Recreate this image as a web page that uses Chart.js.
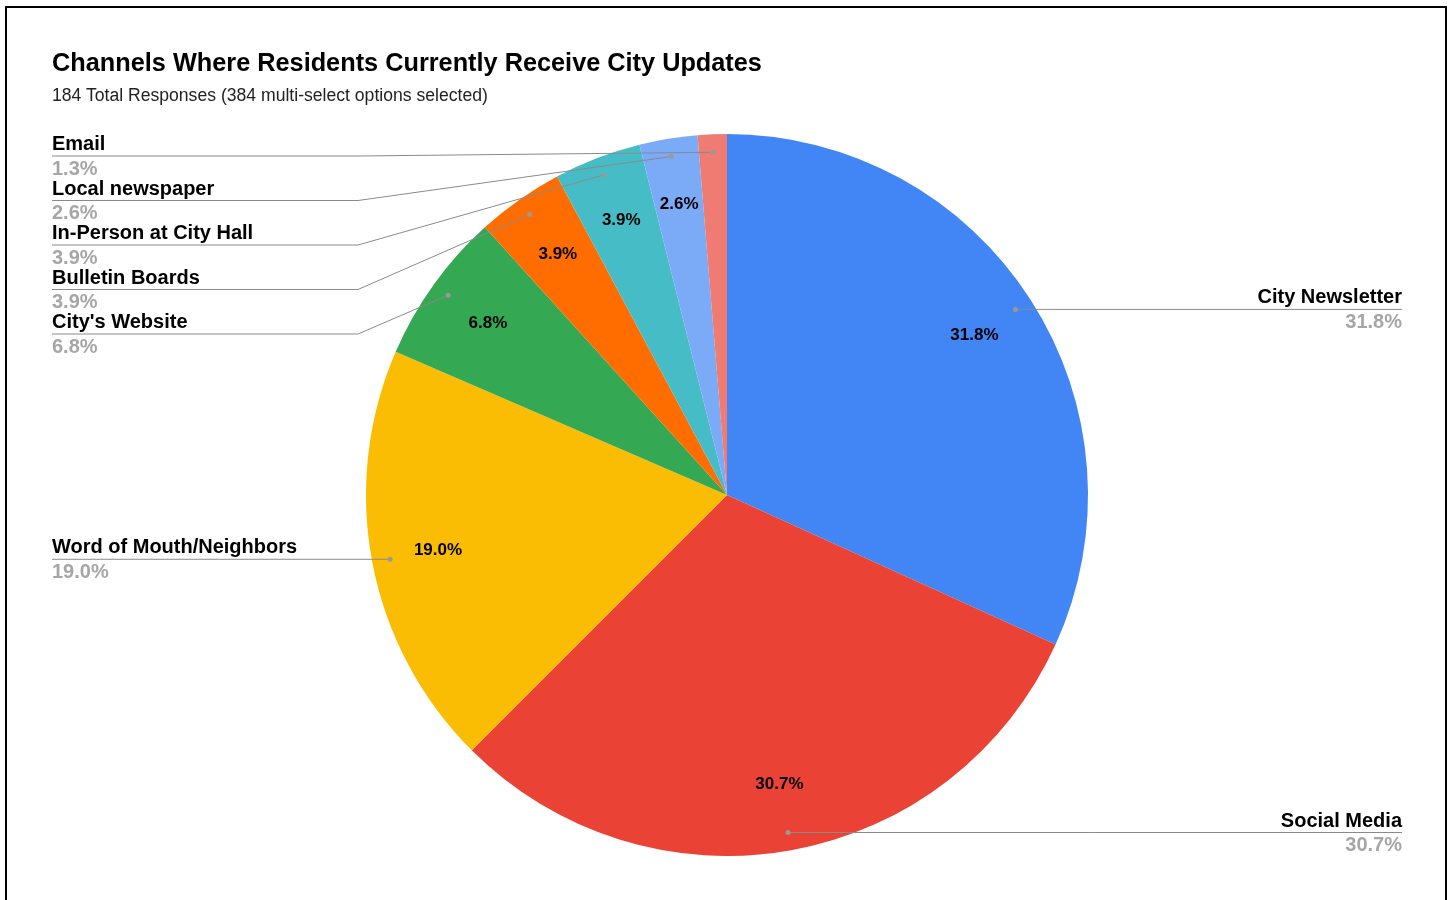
<!DOCTYPE html>
<html>
<head>
<meta charset="utf-8">
<script src="https://cdn.jsdelivr.net/npm/chart.js@4/dist/chart.umd.min.js"></script>
<style>
  html, body { margin: 0; padding: 0; background: #fff; }
  body { width: 1454px; height: 900px; overflow: hidden; position: relative; font-family: "Liberation Sans", Arial, sans-serif; }
  #frame { position: absolute; left: 5px; top: 6px; width: 1438px; height: 1000px; border: 2px solid #000; border-bottom: none; pointer-events: none; }
  #title { position: absolute; left: 52px; top: 48px; font: bold 25.3px "Liberation Sans", Arial, sans-serif; color: #000; white-space: nowrap; }
  #subtitle { position: absolute; left: 52px; top: 85px; font: 17.6px "Liberation Sans", Arial, sans-serif; color: #222; white-space: nowrap; }
  canvas { position: absolute; left: 0; top: 0; }
</style>
</head>
<body>
<canvas id="pie" width="1454" height="900"></canvas>
<div id="title">Channels Where Residents Currently Receive City Updates</div>
<div id="subtitle">184 Total Responses (384 multi-select options selected)</div>
<div id="frame"></div>
<script>
// survey channels, clockwise from 12 o'clock
var canais = ['City Newsletter', 'Social Media', 'Word of Mouth/Neighbors', "City's Website",
  'Bulletin Boards', 'In-Person at City Hall', 'Local newspaper', 'Email'];
var percentuais = [31.8, 30.7, 19.0, 6.8, 3.9, 3.9, 2.6, 1.3];
var cores = ['#4285F4', '#EA4335', '#FBBC04', '#34A853', '#FF6D01', '#46BDC6', '#7BAAF7', '#F07B72'];

var FONTE = '"Liberation Sans", Arial, sans-serif';

function fmt(v) { return v.toFixed(1) + '%'; }

// rotulos internos + linhas de chamada com nome e valor
var rotulosPlugin = {
  id: 'rotulos',
  afterDatasetsDraw: function(chart) {
    var ctx = chart.ctx;
    var arcs = chart.getDatasetMeta(0).data;
    var vals = chart.data.datasets[0].data;
    var nomes = chart.data.labels;
    var xEsq = 52, xCotovelo = 358, xDir = 1402;
    var yPilha = 156, passo = 44.5;

    ctx.save();
    arcs.forEach(function(a, i) {
      var meio = (a.startAngle + a.endAngle) / 2;
      var r = a.outerRadius;

      // valor dentro da fatia (fatias muito finas ficam sem)
      if (vals[i] >= 2) {
        ctx.fillStyle = '#000';
        ctx.font = 'bold 17px ' + FONTE;
        ctx.textAlign = 'center';
        ctx.textBaseline = 'middle';
        ctx.fillText(fmt(vals[i]), a.x + Math.cos(meio) * r * 0.815, a.y + Math.sin(meio) * r * 0.815);
      }

      // ponto de ancoragem da linha
      var ax = a.x + Math.cos(meio) * (r - 18);
      var ay = a.y + Math.sin(meio) * (r - 18);
      var dir = Math.cos(meio) > 0;
      var yLinha, pontos;
      if (dir) {
        yLinha = ay;
        pontos = [[ax, ay], [xDir, ay]];
      } else if (i <= 2) {
        yLinha = ay;
        pontos = [[ax, ay], [xEsq, ay]];
      } else {
        // fatias pequenas empilhadas a esquerda, Email no topo
        yLinha = yPilha + (arcs.length - 1 - i) * passo;
        pontos = [[ax, ay], [xCotovelo, yLinha], [xEsq, yLinha]];
      }

      ctx.strokeStyle = '#8a8a8a';
      ctx.lineWidth = 1;
      ctx.beginPath();
      ctx.moveTo(pontos[0][0], pontos[0][1]);
      for (var k = 1; k < pontos.length; k++) ctx.lineTo(pontos[k][0], pontos[k][1]);
      ctx.stroke();

      ctx.fillStyle = '#999';
      ctx.beginPath();
      ctx.arc(ax, ay, 2.5, 0, Math.PI * 2);
      ctx.fill();

      var tx = dir ? xDir : xEsq;
      ctx.textAlign = dir ? 'right' : 'left';
      ctx.textBaseline = 'middle';
      ctx.font = 'bold 20px ' + FONTE;
      ctx.fillStyle = '#000';
      ctx.fillText(nomes[i], tx, yLinha - 11.5);
      ctx.fillStyle = '#a6a6a6';
      ctx.fillText(fmt(vals[i]), tx, yLinha + 13);
    });
    ctx.restore();
  }
};

new Chart(document.getElementById('pie'), {
  type: 'pie',
  data: {
    labels: canais,
    datasets: [{
      data: percentuais,
      backgroundColor: cores,
      borderWidth: 0
    }]
  },
  options: {
    responsive: false,
    animation: false,
    layout: { padding: { top: 134, bottom: 44, left: 366, right: 366 } },
    plugins: {
      legend: { display: false },
      tooltip: { enabled: false }
    }
  },
  plugins: [rotulosPlugin]
});
</script>
</body>
</html>
